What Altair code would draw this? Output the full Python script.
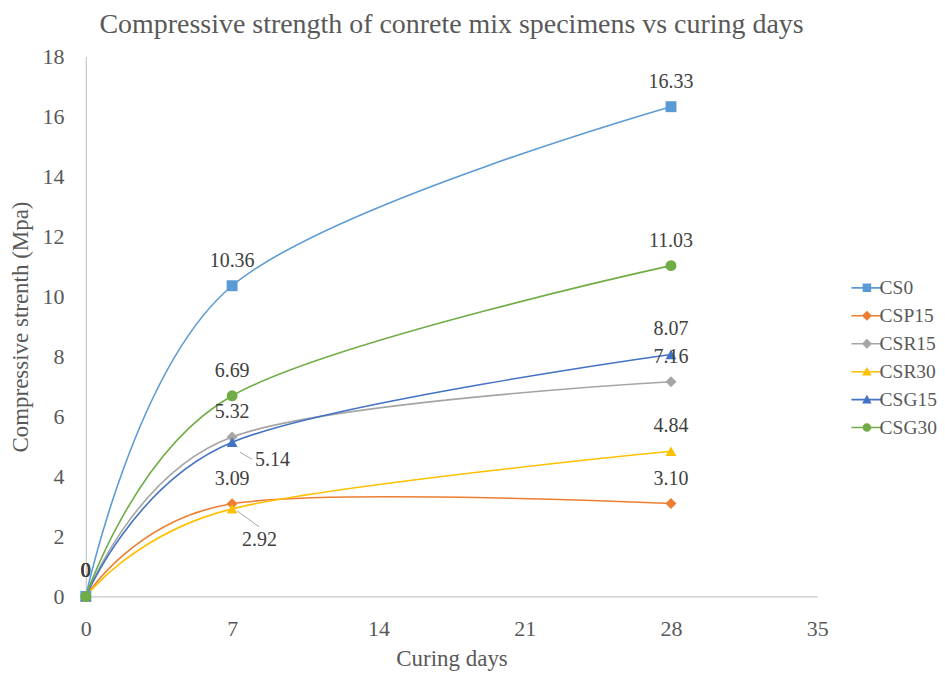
import altair as alt
import pandas as pd

days = [0, 7, 28]
series = ["CS0", "CSP15", "CSR15", "CSR30", "CSG15", "CSG30"]
cs0 = [0, 10.36, 16.33]
csp15 = [0, 3.09, 3.10]
csr15 = [0, 5.32, 7.16]
csr30 = [0, 2.92, 4.84]
csg15 = [0, 5.14, 8.07]
csg30 = [0, 6.69, 11.03]
values = [cs0, csp15, csr15, csr30, csg15, csg30]

colors = ["#5B9BD5", "#ED7D31", "#A5A5A5", "#FFC000", "#4472C4", "#70AD47"]
point_shapes = ["square", "diamond", "diamond", "triangle-up", "triangle-up", "circle"]

FONT = "Liberation Serif"

line_part = "M-2,-0.1H2V0.1H-2Z"
legend_shapes = [
    line_part + "M-0.55,-0.55H0.55V0.55H-0.55Z",
    line_part + "M0,-0.65L0.65,0L0,0.65L-0.65,0Z",
    line_part + "M0,-0.65L0.65,0L0,0.65L-0.65,0Z",
    line_part + "M0,-0.62L0.62,0.5L-0.62,0.5Z",
    line_part + "M0,-0.62L0.62,0.5L-0.62,0.5Z",
    line_part + "M0.55,0A0.55,0.55 0 1,1 -0.55,0A0.55,0.55 0 1,1 0.55,0Z",
]

rows = []
for si, s in enumerate(series):
    for d, v in zip(days, values[si]):
        lab = "0" if v == 0 else f"{v:.2f}"
        rows.append({"series": s, "order": si, "day": d, "value": v, "label": lab})
df = pd.DataFrame(rows)

X = alt.X("day:Q", scale=alt.Scale(domain=[0, 35], nice=False),
          axis=alt.Axis(values=[0, 7, 14, 21, 28, 35], title="Curing days", labelFlush=False))
Y = alt.Y("value:Q", scale=alt.Scale(domain=[0, 18], nice=False),
          axis=alt.Axis(values=list(range(0, 19, 2)), title="Compressive strenth (Mpa)",
                        labelFlush=False))
C = alt.Color("series:N", scale=alt.Scale(domain=series, range=colors), legend=None)

base = alt.Chart(df)

lines = base.mark_line(interpolate="cardinal", strokeWidth=1.6).encode(
    x=X, y=Y, color=C, detail="series:N", order="day:Q")

points = base.mark_point(filled=True, opacity=1, size=120).encode(
    x=X, y=Y, color=C,
    shape=alt.Shape("series:N", scale=alt.Scale(domain=series, range=point_shapes), legend=None),
)

leg = alt.Legend(title=None, orient="none", legendX=773, legendY=222,
                 symbolSize=240, labelFontSize=19.5, labelColor="#595959",
                 rowPadding=7, symbolStrokeWidth=0, labelOffset=3, labelFont=FONT,
                 padding=0)

legend_layer = base.transform_filter("false").mark_point(filled=True, opacity=1, size=240).encode(
    x=X, y=Y,
    color=alt.Color("series:N", scale=alt.Scale(domain=series, range=colors), legend=leg),
    shape=alt.Shape("series:N", scale=alt.Scale(domain=series, range=legend_shapes), legend=leg),
)

normal_labels = base.transform_filter(
    "datum.label != '5.14' && datum.label != '2.92'"
).mark_text(dy=-25, fontSize=20, color="#404040", font=FONT).encode(
    x=X, y=Y, text="label:N")

lab514 = base.transform_filter("datum.label == '5.14'").mark_text(
    dx=23, dy=18, align="left", fontSize=20, color="#404040", font=FONT
).encode(x=X, y=Y, text="label:N")
lab292 = base.transform_filter("datum.label == '2.92'").mark_text(
    dx=10, dy=31, align="left", fontSize=20, color="#404040", font=FONT
).encode(x=X, y=Y, text="label:N")

lead514 = base.transform_filter("datum.label == '5.14'").mark_rule(
    color="#A6A6A6", strokeWidth=1, xOffset=8, yOffset=10, x2Offset=20, y2Offset=17
).encode(x=X, y=Y, x2="day:Q", y2="value:Q")
lead292 = base.transform_filter("datum.label == '2.92'").mark_rule(
    color="#A6A6A6", strokeWidth=1, xOffset=5, yOffset=2, x2Offset=27, y2Offset=18
).encode(x=X, y=Y, x2="day:Q", y2="value:Q")

chart = alt.layer(
    lines, points, legend_layer, lead514, lead292, normal_labels, lab514, lab292
).resolve_scale(shape="independent", color="independent").properties(
    width=733, height=541,
    padding={"top": 2, "left": 2, "right": 0, "bottom": 0},
    title=alt.Title("Compressive strength of conrete mix specimens vs curing days",
                    fontSize=28, font=FONT, color="#595959",
                    fontWeight="normal", offset=7),
).configure(font=FONT).configure_view(stroke=None).configure_axis(
    grid=False, ticks=False, tickSize=0, domainColor="#C8C8C8", domainWidth=1.2,
    labelFont=FONT, labelFontSize=22, labelColor="#595959",
    titleFont=FONT, titleFontSize=23, titleColor="#595959",
    titleFontWeight="normal",
).configure_axisX(labelPadding=22, titlePadding=8).configure_axisY(
    labelPadding=22, titlePadding=9).configure_legend(
    symbolSize=240, labelFontSize=19.5, labelColor="#595959", rowPadding=7,
    symbolStrokeWidth=0, labelFont=FONT, labelOffset=3, padding=0)

chart.save("out.html", embed_options={"renderer": "svg", "actions": False})
